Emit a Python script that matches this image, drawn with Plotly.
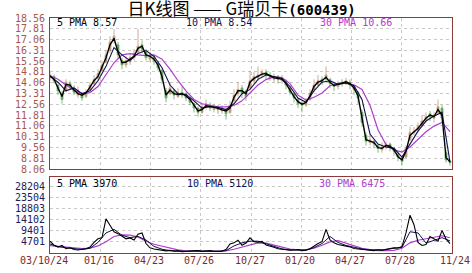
import plotly.graph_objects as go

# ---------------- data ----------------
title_text = ('日K线图 —— G瑞贝卡'
              '<span style="font-family:DejaVu Sans Mono;font-size:14px"><b>(600439)</b></span>')
date_labels = ["03/10/24", "01/16", "04/23", "07/26", "10/27", "01/20", "04/27", "07/28", "11/24"]

price_ticks = [8.06, 8.81, 9.56, 10.31, 11.06, 11.81, 12.56, 13.31, 14.06, 14.81, 15.56, 16.31, 17.06, 17.81, 18.56]
vol_ticks = [4701, 9401, 14102, 18803, 23504, 28204]

# 5-period average of price (black line), 101 samples
pma5 = [14.55, 14.3, 13.7, 13.1, 13.95, 13.9, 13.55, 13.3, 13.2, 13.35,
        13.75, 14.2, 14.5, 15.15, 15.8, 16.7, 17.15, 16.2, 15.45, 15.5,
        15.7, 15.9, 16.45, 16.6, 16.0, 15.9, 15.7, 15.29, 14.5, 13.2,
        13.55, 13.3, 13.25, 13.3, 13.15, 12.9, 12.5, 12.1, 12.2, 12.46,
        12.42, 12.36, 12.28, 12.18, 12.1, 12.3, 13.05, 13.5, 13.5, 13.3,
        14.1, 14.36, 14.5, 14.66, 14.7, 14.55, 14.4, 14.36, 14.3, 14.0,
        13.5, 13.1, 12.75, 12.57, 12.7, 13.15, 13.8, 14.1, 14.2, 14.45,
        14.1, 13.87, 13.95, 14.04, 14.13, 14.0, 13.7, 13.15, 11.5, 10.1,
        10.0, 9.9, 9.55, 9.5, 9.7, 9.65, 9.4, 8.92, 8.7, 9.3,
        10.4, 10.65, 10.89, 11.25, 11.6, 11.82, 11.7, 12.2, 11.8, 8.85, 8.57]

# 10-period average of price (navy line), 51 samples
pma10 = [14.5, 14.1, 13.5, 13.7, 13.3, 13.5, 14.2, 15.2, 16.5, 16.0,
         15.6, 16.1, 16.3, 15.9, 15.1, 13.9, 13.3, 13.25, 12.8, 12.3,
         12.4, 12.35, 12.2, 12.6, 13.3, 13.6, 14.3, 14.6, 14.5, 14.35,
         13.8, 13.0, 12.7, 13.5, 14.1, 14.2, 13.95, 14.05, 13.85, 12.9,
         10.5, 9.8, 9.6, 9.5, 8.9, 9.8, 10.7, 11.4, 11.75, 12.0, 8.54]

# 30-period average of price (purple line), 51 samples
pma30 = [14.55, 14.3, 13.9, 13.55, 13.32, 13.38, 13.8, 14.6, 15.45, 16.0,
         16.08, 16.0, 15.95, 16.0, 15.7, 15.0, 14.2, 13.5, 12.9, 12.6,
         12.48, 12.39, 12.39, 12.48, 12.8, 13.35, 13.9, 14.28, 14.47, 14.42,
         14.0, 13.2, 12.86, 13.05, 13.35, 13.85, 14.02, 14.02, 13.92, 13.6,
         12.5, 10.8, 9.75, 9.4, 9.25, 9.6, 10.15, 10.65, 11.05, 11.3, 10.66]

# candles, 101 samples
c_open = [14.4, 14.5, 13.9, 13.3, 13.5, 14.0, 13.7, 13.2, 13.3, 13.1,
          13.6, 14.0, 14.4, 14.9, 15.5, 16.3, 17.0, 16.7, 15.6, 15.3,
          15.5, 15.8, 16.2, 16.7, 16.2, 15.7, 15.9, 15.4, 14.9, 13.5,
          13.3, 13.5, 13.1, 13.4, 13.3, 13.0, 12.6, 12.3, 12.0, 12.4,
          12.5, 12.2, 12.4, 12.1, 12.2, 12.0, 12.8, 13.3, 13.7, 13.4,
          13.7, 14.2, 14.4, 14.6, 14.8, 14.6, 14.3, 14.5, 14.2, 14.2,
          13.7, 13.3, 12.9, 12.6, 12.5, 12.9, 13.6, 13.9, 14.3, 14.3,
          14.3, 13.9, 13.8, 14.1, 14.0, 14.1, 13.8, 13.4, 12.0, 10.4,
          9.9, 10.0, 9.7, 9.4, 9.6, 9.8, 9.5, 9.1, 8.8, 8.9,
          10.1, 10.6, 10.8, 11.1, 11.5, 11.9, 11.6, 12.0, 12.3, 9.2, 8.6]
c_close = [14.6, 14.2, 13.5, 12.9, 14.1, 13.8, 13.4, 13.5, 13.0, 13.4,
           13.9, 14.3, 14.7, 15.3, 16.0, 16.9, 17.3, 16.0, 15.3, 15.6,
           15.8, 16.1, 16.6, 16.4, 15.8, 16.0, 15.6, 15.1, 14.3, 13.0,
           13.7, 13.2, 13.4, 13.2, 13.0, 12.7, 12.3, 12.0, 12.4, 12.6,
           12.3, 12.4, 12.2, 12.3, 11.9, 12.5, 13.2, 13.6, 13.3, 13.1,
           14.2, 14.5, 14.6, 14.8, 14.6, 14.4, 14.5, 14.3, 14.4, 13.9,
           13.4, 13.0, 12.6, 12.5, 12.8, 13.3, 13.9, 14.2, 14.1, 14.6,
           14.0, 13.8, 14.0, 14.0, 14.2, 13.9, 13.6, 13.0, 11.3, 10.0,
           10.1, 9.8, 9.5, 9.6, 9.8, 9.6, 9.3, 8.9, 8.6, 9.5,
           10.6, 10.7, 11.0, 11.4, 11.7, 11.7, 11.8, 12.4, 11.6, 8.7, 8.5]
c_high = [14.8, 14.6, 14.0, 13.5, 14.3, 14.2, 13.9, 13.8, 13.4, 13.6,
          14.1, 14.6, 15.0, 15.6, 16.3, 17.3, 17.8, 16.9, 15.8, 15.9,
          16.0, 16.4, 17.8, 17.0, 16.4, 16.2, 16.0, 15.6, 15.0, 13.7,
          14.1, 13.6, 13.7, 13.8, 13.4, 13.1, 12.7, 12.4, 12.6, 12.9,
          12.7, 12.6, 12.5, 12.5, 12.3, 12.8, 13.6, 14.1, 13.9, 13.6,
          14.9, 14.8, 15.2, 15.0, 15.0, 14.8, 14.7, 14.6, 14.6, 14.3,
          13.8, 13.4, 13.0, 12.8, 13.0, 13.6, 14.3, 14.6, 14.5, 15.2,
          14.4, 14.1, 14.2, 14.3, 14.4, 14.3, 13.9, 13.5, 12.2, 10.6,
          10.5, 10.1, 9.8, 9.9, 10.0, 9.9, 9.6, 9.2, 8.9, 9.7,
          11.0, 11.0, 11.3, 11.8, 12.0, 12.1, 12.0, 12.9, 12.5, 9.4, 8.7]
c_low = [14.2, 14.0, 13.2, 12.6, 13.4, 13.6, 13.2, 13.0, 12.8, 13.0,
         13.5, 13.9, 14.2, 14.8, 15.4, 16.1, 16.8, 15.7, 15.0, 15.1,
         15.3, 15.6, 16.0, 16.1, 15.6, 15.5, 15.3, 14.9, 14.0, 12.7,
         13.2, 12.9, 13.0, 13.0, 12.8, 12.5, 12.0, 11.7, 11.9, 12.2,
         12.1, 12.0, 11.9, 11.9, 11.5, 11.9, 12.7, 13.1, 13.0, 12.8,
         13.6, 14.0, 14.2, 14.4, 14.3, 14.2, 14.1, 14.0, 14.0, 13.6,
         13.2, 12.7, 12.3, 12.0, 12.4, 12.8, 13.4, 13.8, 13.9, 14.2,
         13.7, 13.5, 13.6, 13.8, 13.9, 13.6, 13.2, 12.6, 11.0, 9.7,
         9.7, 9.5, 9.2, 9.2, 9.4, 9.3, 9.0, 8.6, 8.3, 8.8,
         10.0, 10.4, 10.6, 11.0, 11.3, 11.4, 11.3, 11.9, 11.3, 8.5, 8.3]

# volume averages
vma5 = [5000, 3300, 2500, 3200, 1800, 2200, 1500, 1300, 1600, 1800,
        2500, 4500, 6000, 6500, 14500, 11500, 9000, 8200, 7000, 6000,
        6400, 5500, 8000, 8500, 4000, 2200, 1700, 1500, 1200, 900,
        1100, 800, 900, 600, 700, 900, 1100, 1000, 700, 900,
        1000, 700, 600, 800, 1500, 3800, 4300, 5400, 3300, 4200,
        6400, 4800, 4600, 4900, 3400, 3000, 2400, 1800, 1500, 1300,
        1200, 1300, 1500, 1000, 1200, 1800, 3000, 4000, 4800, 10000,
        5500, 4300, 3600, 3300, 2800, 2600, 1900, 1700, 1500, 1300,
        1200, 1000, 1400, 1100, 1600, 2000, 2200, 2100, 2700, 8500,
        16000, 12000, 4500, 3200, 3600, 7000, 6000, 5000, 9500, 6000, 3970]
vma10 = [3800, 2700, 2200, 1700, 1500, 2000, 4500, 8500, 10000, 7500,
         6500, 7000, 5500, 2800, 1600, 1000, 850, 700, 900, 850,
         850, 700, 1000, 3000, 4300, 5000, 5000, 4000, 2800, 1700,
         1300, 1300, 1200, 2300, 4000, 7000, 4500, 3200, 2300, 1700,
         1300, 1200, 1400, 2000, 2400, 9000, 8500, 4200, 5500, 6500, 5120]
vma30 = [3100, 2800, 2300, 2000, 1900, 2100, 3000, 4800, 7000, 7700,
         7600, 6800, 5000, 3700, 2800, 2100, 1300, 900, 700, 650,
         650, 700, 900, 1600, 2600, 3400, 4300, 4200, 3500, 2500,
         1700, 1300, 1400, 2000, 3300, 4700, 5200, 4100, 3000, 2000,
         1400, 1000, 1000, 1100, 2000, 4300, 5400, 6000, 6800, 7300, 6475]

# ---------------- figure ----------------
FRAME = "#8c3a3a"
GRID = "#c8c8c8"
PRICE_TXT = "#a8584e"
VOL_TXT = "#1e2058"
DATE_TXT = "#7a2a2a"
NAVY = "#101050"
PURPLE = "#b03ccc"
MONO = "DejaVu Sans Mono"

x_full = list(range(len(pma5)))
x_half = [2 * i for i in range(len(pma10))]
x_end = 100.5
q_ticks = [x_end * k / 8 for k in range(9)]

fig = go.Figure()

fig.add_trace(go.Candlestick(
    x=x_full, open=c_open, high=c_high, low=c_low, close=c_close,
    increasing=dict(line=dict(color="#b88a66", width=0.8), fillcolor="#b88a66"),
    decreasing=dict(line=dict(color="#4e9c46", width=0.8), fillcolor="#4e9c46"),
    whiskerwidth=0, opacity=0.85, showlegend=False, xaxis="x", yaxis="y"))
fig.add_trace(go.Scatter(x=x_half, y=pma30, mode="lines",
                         line=dict(color=PURPLE, width=1.2), xaxis="x", yaxis="y", showlegend=False))
fig.add_trace(go.Scatter(x=x_half, y=pma10, mode="lines",
                         line=dict(color=NAVY, width=1.1), xaxis="x", yaxis="y", showlegend=False))
fig.add_trace(go.Scatter(x=x_full, y=pma5, mode="lines",
                         line=dict(color="#000000", width=1.4), xaxis="x", yaxis="y", showlegend=False))

fig.add_trace(go.Scatter(x=x_half, y=vma30, mode="lines",
                         line=dict(color=PURPLE, width=1.2), xaxis="x2", yaxis="y2", showlegend=False))
fig.add_trace(go.Scatter(x=x_half, y=vma10, mode="lines",
                         line=dict(color=NAVY, width=1), xaxis="x2", yaxis="y2", showlegend=False))
fig.add_trace(go.Scatter(x=x_full, y=vma5, mode="lines",
                         line=dict(color="#000000", width=1.1), xaxis="x2", yaxis="y2", showlegend=False))

axis_common = dict(showline=True, mirror=True, linecolor=FRAME, linewidth=1,
                   showgrid=True, gridcolor=GRID, griddash="dot", gridwidth=1,
                   zeroline=False, ticks="", fixedrange=True)

fig.update_layout(
    width=472, height=273,
    margin=dict(l=50, r=20, t=18, b=20),
    paper_bgcolor="white", plot_bgcolor="white",
    font=dict(family=MONO, size=10),
    xaxis=dict(domain=[0, 1], anchor="y", range=[0, x_end], tickvals=q_ticks,
               showticklabels=False, rangeslider=dict(visible=False), **axis_common),
    yaxis=dict(domain=[0.357, 1], anchor="x", range=[price_ticks[0], price_ticks[-1]],
               tickvals=price_ticks, ticktext=[f"{v:.2f}" for v in price_ticks],
               tickfont=dict(family=MONO, size=10, color=PRICE_TXT), ticklabelstandoff=2,
               **axis_common),
    xaxis2=dict(domain=[0, 1], anchor="y2", range=[0, x_end], tickvals=q_ticks,
                showticklabels=False, **axis_common),
    yaxis2=dict(domain=[0, 0.325], anchor="x2", range=[0, 32350],
                tickvals=vol_ticks, ticktext=[str(v) for v in vol_ticks],
                tickfont=dict(family=MONO, size=10, color=VOL_TXT), ticklabelstandoff=2,
                **axis_common),
    title=dict(text=title_text, x=0.512, xanchor="center", y=0.968, yanchor="middle",
               font=dict(family="Noto Sans CJK SC", size=17, color="#000000")),
)

ann = []
# legends inside panels
legend_specs = [
    ("5 PMA 8.57", "#000000", 0.012, 0.982),
    ("10 PMA 8.54", NAVY, 0.333, 0.982),
    ("30 PMA 10.66", PURPLE, 0.666, 0.982),
    ("5 PMA 3970", "#000000", 0.012, 0.297),
    ("10 PMA 5120", NAVY, 0.335, 0.297),
    ("30 PMA 6475", PURPLE, 0.665, 0.297),
]
for txt, col, xp, yp in legend_specs:
    ann.append(dict(text=txt, xref="paper", yref="paper", x=xp, y=yp, xanchor="left",
                    yanchor="middle", showarrow=False, font=dict(family=MONO, size=10, color=col)))

# date labels
shifts = [-6.5] + [-1.5] * 7 + [2.5]
for lab, xv, sh in zip(date_labels, q_ticks, shifts):
    ann.append(dict(text=lab, xref="x2", yref="paper", x=xv, y=-0.033, xanchor="center",
                    yanchor="middle", xshift=sh, showarrow=False,
                    font=dict(family=MONO, size=10, color=DATE_TXT)))
fig.update_layout(annotations=ann)

fig.write_html("out.html")
